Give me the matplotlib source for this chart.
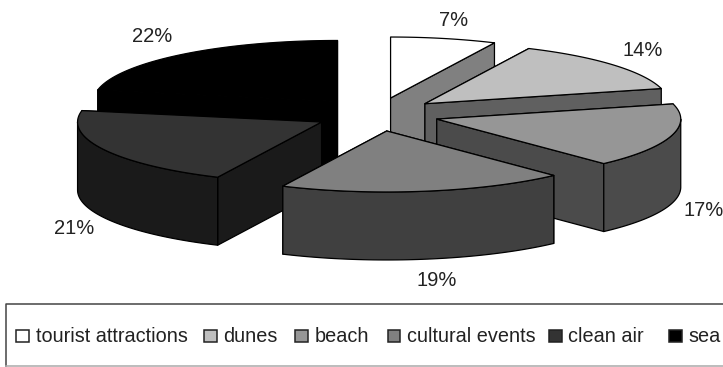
import matplotlib
matplotlib.use('Agg')
import matplotlib.pyplot as plt
from matplotlib.patches import Rectangle
import numpy as np

categories = ['tourist attractions', 'dunes', 'beach', 'cultural events', 'clean air', 'sea']
shares = [7, 14, 17, 19, 21, 22]

# top face grey level of each slice, the sides are half of it
top_grey = [1.0, 0.75, 0.59, 0.5, 0.2, 0.0]
# where each percentage sits on the canvas
label_xy = [(454, 21), (643, 51), (704, 211), (437, 280), (74, 228), (152, 37)]
# left edge of each legend swatch
legend_x = [16, 204, 295, 387.5, 549, 669]

cx, cy = 377, 114.4
rx, ry = 244, 61
explode = 0.255
ex_y = 0.275
depth = 68

plt.rcParams['font.family'] = ['Liberation Sans', 'DejaVu Sans']

fig = plt.figure(figsize=(7.23, 3.67), dpi=100)
ax = fig.add_axes([0, 0, 1, 1])
ax.set_xlim(0, 723)
ax.set_ylim(367, 0)
ax.axis('off')


def rim(px, py, t):
    # t is clockwise from north, in radians
    return px + rx * np.sin(t), py - ry * np.cos(t)


def face(xs, ys, colour, z):
    ax.fill(xs, ys, facecolor=colour, edgecolor='black', linewidth=0.9, joinstyle='round', zorder=z)


def wall(xs, ys, colour, z):
    xs = np.asarray(xs)
    ys = np.asarray(ys)
    face(np.r_[xs, xs[::-1]], np.r_[ys, ys[::-1] + depth], colour, z)


edges = np.cumsum([0] + shares) / sum(shares) * 2 * np.pi
# back slices first so the front ones cover them
order = [0, 5, 1, 4, 2, 3]

for z, i in enumerate(order):
    t0, t1 = edges[i], edges[i + 1]
    mid = (t0 + t1) / 2
    px = cx + explode * rx * np.sin(mid)
    py = cy - ex_y * ry * np.cos(mid)
    grey = top_grey[i]
    side = str(grey / 2)
    base = z * 10

    # flat cut walls, the one further back goes down first
    x0, y0 = rim(px, py, t0)
    x1, y1 = rim(px, py, t1)
    cuts = sorted([(x0, y0), (x1, y1)], key=lambda p: p[1] + py)
    for k, (xe, ye) in enumerate(cuts):
        wall([px, xe], [py, ye], side, base + k)

    # curved outer wall, only the half facing front shows
    lo, hi = max(t0, np.pi / 2), min(t1, 3 * np.pi / 2)
    if lo < hi:
        t = np.linspace(lo, hi, 60)
        xa, ya = rim(px, py, t)
        wall(xa, ya, side, base + 3)

    t = np.linspace(t0, t1, 80)
    xa, ya = rim(px, py, t)
    face(np.r_[px, xa], np.r_[py, ya], str(grey), base + 4)

for share, (lx, ly) in zip(shares, label_xy):
    ax.text(lx, ly, f'{share}%', fontsize=14.5, color='#222222', ha='center', va='center', zorder=200)

# legend frame, it runs off the right side and the bottom line is fainter
ax.plot([723, 6, 6], [303.7, 303.7, 366], color='#444444', linewidth=1.1, zorder=190)
ax.plot([6, 723], [366, 366], color='#aaaaaa', linewidth=1.1, zorder=190)

for name, grey, lx in zip(categories, top_grey, legend_x):
    ax.add_patch(Rectangle((lx, 329.5), 12.5, 12.5, facecolor=str(grey), edgecolor='#222222',
                           linewidth=1.1, zorder=195))
    ax.text(lx + 19.5, 342, name, fontsize=14.3, color='#222222', ha='left', va='baseline', zorder=200)

fig.savefig('out.png', dpi=100)
